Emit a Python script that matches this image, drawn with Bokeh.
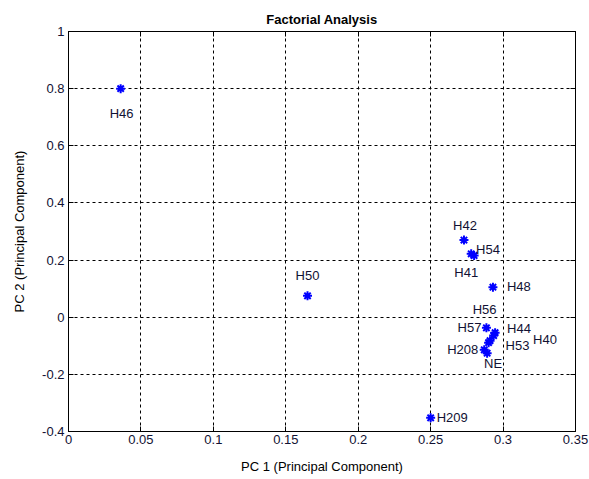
from bokeh.plotting import figure
from bokeh.models import ColumnDataSource, Range1d, LinearAxis, FixedTicker, CustomJSTickFormatter
from bokeh.embed import file_html
from bokeh.resources import INLINE
from bokeh.core.properties import value

names = ["H46", "H50", "H209", "H42", "H54", "H41", "H48", "H57", "H44", "H56", "H40", "H53", "H208", "NE"]
pc1 = [0.036, 0.165, 0.250, 0.273, 0.280, 0.278, 0.293, 0.2885, 0.2945, 0.2935, 0.291, 0.290, 0.287, 0.289]
pc2 = [0.800, 0.075, -0.352, 0.270, 0.216, 0.222, 0.105, -0.037, -0.054, -0.064, -0.082, -0.089, -0.114, -0.126]

x_ticks = [0, 0.05, 0.1, 0.15, 0.2, 0.25, 0.3, 0.35]
y_ticks = [-0.4, -0.2, 0, 0.2, 0.4, 0.6, 0.8, 1]

# label placement (screen pixels)
lab_dx = [1, 0, 6, 1, 2, -5, 14, -5, 12, -9, 43, 17, -6, 6]
lab_dy = [25, -20, 0, -15, -6, 19, -1, 0, -4, -26, -1, 3, 0, 10]
lab_align = ["center", "center", "left", "center", "left", "center", "left", "right", "left", "center", "left", "left", "right", "center"]

FONT = "Liberation Sans"
TXT = "#111133"

p = figure(width=589, height=479, output_backend="svg", toolbar_location=None,
           x_range=Range1d(0, 0.35), y_range=Range1d(-0.4, 1),
           min_border_left=68, min_border_right=14, min_border_top=31, min_border_bottom=48,
           title="Factorial Analysis")
p.title.align = "center"
p.title.text_font = FONT
p.title.text_font_size = "13px"
p.title.text_font_style = "bold"
p.title.text_color = "#000000"
p.title.offset = 0

p.background_fill_color = "white"
p.border_fill_color = "white"
p.outline_line_color = "black"
p.outline_line_width = 1

for ax in (p.xaxis[0], p.yaxis[0]):
    ax.major_tick_in = 5
    ax.major_tick_out = 0
    ax.minor_tick_in = 0
    ax.minor_tick_out = 0
    ax.axis_line_color = "black"
    ax.major_tick_line_color = "black"
    ax.major_label_text_font = FONT
    ax.major_label_text_font_size = "13px"
    ax.major_label_text_color = TXT
    ax.axis_label_text_font = FONT
    ax.axis_label_text_font_size = "13px"
    ax.axis_label_text_font_style = "normal"
    ax.axis_label_text_color = "#000000"

p.xaxis[0].ticker = FixedTicker(ticks=x_ticks)
p.yaxis[0].ticker = FixedTicker(ticks=y_ticks)
p.xaxis[0].major_label_overrides = {0: "0", 0.05: "0.05", 0.1: "0.1", 0.15: "0.15", 0.2: "0.2", 0.25: "0.25", 0.3: "0.3", 0.35: "0.35"}
p.yaxis[0].major_label_overrides = {-0.4: "-0.4", -0.2: "-0.2", 0: "0", 0.2: "0.2", 0.4: "0.4", 0.6: "0.6", 0.8: "0.8", 1: "1"}
p.xaxis[0].axis_label = "PC 1 (Principal Component)"
p.yaxis[0].axis_label = "PC 2 (Principal Component)"
p.xaxis[0].major_label_standoff = 3
p.yaxis[0].major_label_standoff = 4
p.xaxis[0].axis_label_standoff = 12
p.yaxis[0].axis_label_standoff = 12

# mirrored tick axes on top / right (no labels)
blank = CustomJSTickFormatter(code="return ''")
top = LinearAxis(ticker=FixedTicker(ticks=x_ticks), formatter=blank,
                 major_tick_in=5, major_tick_out=0, minor_tick_in=0, minor_tick_out=0,
                 axis_line_color="black", major_tick_line_color="black", major_label_standoff=0)
right = LinearAxis(ticker=FixedTicker(ticks=y_ticks), formatter=blank,
                   major_tick_in=5, major_tick_out=0, minor_tick_in=0, minor_tick_out=0,
                   axis_line_color="black", major_tick_line_color="black", major_label_standoff=0)
p.add_layout(top, "above")
p.add_layout(right, "right")

for g in (p.xgrid[0], p.ygrid[0]):
    g.grid_line_color = "black"
    g.grid_line_dash = "3 3"
    g.grid_line_width = 1
    g.grid_line_alpha = 1.0

src = ColumnDataSource(dict(x=pc1, y=pc2, name=names, dx=lab_dx, dy=lab_dy, al=lab_align))

p.scatter("x", "y", source=src, marker="asterisk", size=9, line_color="#0000ff", line_width=2)
p.scatter("x", "y", source=src, marker="circle", size=4, fill_color="#0000ff", line_color="#0000ff")

p.text("x", "y", text="name", source=src, x_offset="dx", y_offset="dy", text_align="al",
       text_baseline="middle", text_font=value(FONT), text_font_size="13px", text_color=TXT)

open("out.html", "w").write(file_html(p, INLINE))
